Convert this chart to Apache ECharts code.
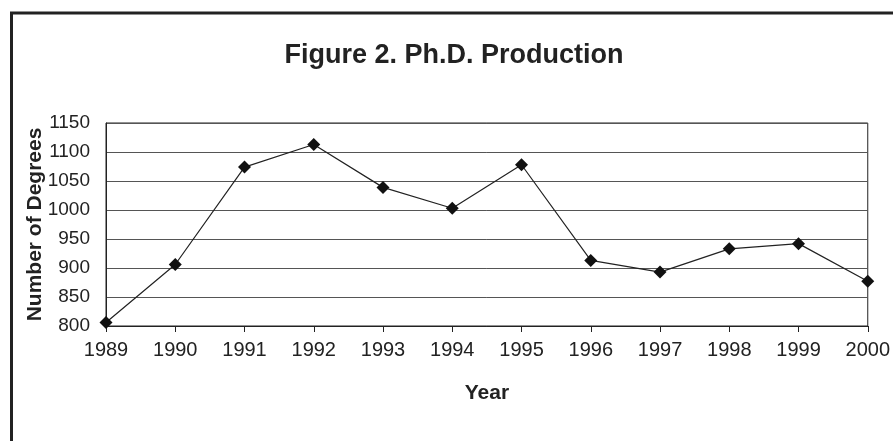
<!DOCTYPE html>
<html>
<head>
<meta charset="utf-8">
<script src="https://cdn.jsdelivr.net/npm/echarts@6/dist/echarts.min.js"></script>
<style>
html,body{margin:0;padding:0;background:#fff;}
#chart{width:893px;height:441px;}
</style>
</head>
<body>
<div id="chart"></div>
<script>
var years = ['1989','1990','1991','1992','1993','1994','1995','1996','1997','1998','1999','2000'];
var degrees = [806, 906, 1074, 1113, 1039, 1003, 1078, 913, 893, 933, 942, 877];
var yTicks = {min: 800, max: 1150, interval: 50};

var chart = echarts.init(document.getElementById('chart'), null, {renderer: 'canvas'});
var font = 'Liberation Sans, Arial, sans-serif';
chart.setOption({
  backgroundColor: '#fff',
  animation: false,
  title: {
    text: 'Figure 2. Ph.D. Production',
    left: 449, textAlign: 'center', top: 37,
    textStyle: {fontFamily: font, fontSize: 27, fontWeight: 'bold', color: '#222'}
  },
  graphic: [{
    type: 'rect', silent: true, z: 100,
    shape: {x: 11.5, y: 13, width: 1000, height: 1000},
    style: {fill: 'none', stroke: '#222', lineWidth: 3}
  }],
  grid: {left: 106, right: 22, top: 123, bottom: 115, show: true, borderColor: '#222', borderWidth: 1, containLabel: false},
  xAxis: {
    type: 'category', data: years, boundaryGap: false,
    name: 'Year', nameLocation: 'middle', nameGap: 57, nameMoveOverlap: false,
    nameTextStyle: {fontFamily: font, fontSize: 21, fontWeight: 'bold', color: '#222'},
    axisLine: {lineStyle: {color: '#222', width: 1}},
    axisTick: {show: true, length: 6, lineStyle: {color: '#222'}},
    axisLabel: {fontFamily: font, fontSize: 20, color: '#222', margin: 14, interval: 0},
    splitLine: {show: false}
  },
  yAxis: {
    type: 'value', min: yTicks.min, max: yTicks.max, interval: yTicks.interval,
    name: 'Number of Degrees', nameLocation: 'middle', nameGap: 60, nameMoveOverlap: false,
    nameTextStyle: {fontFamily: font, fontSize: 21, fontWeight: 'bold', color: '#222'},
    axisLine: {show: true, lineStyle: {color: '#222', width: 1}},
    axisTick: {show: false},
    axisLabel: {fontFamily: font, fontSize: 19, color: '#222', margin: 16, formatter: function (v) { return String(v); }},
    splitLine: {show: true, lineStyle: {color: '#555', width: 1}}
  },
  series: [{
    type: 'line', data: degrees,
    symbol: 'diamond', symbolSize: 13,
    lineStyle: {color: '#222', width: 1.2},
    itemStyle: {color: '#111'},
    z: 5
  }]
});
</script>
</body>
</html>
